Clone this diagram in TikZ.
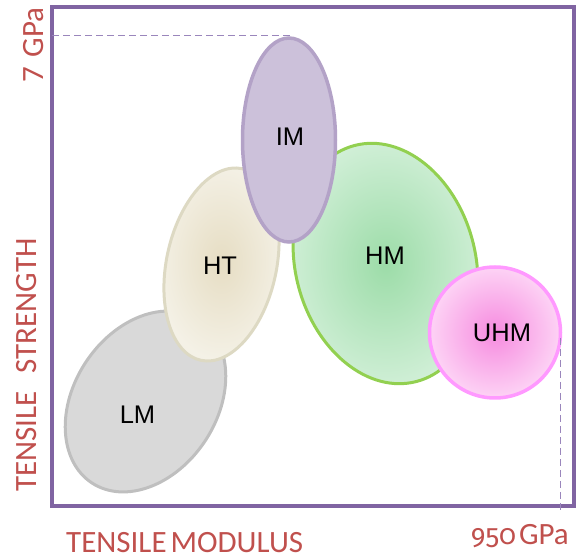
\documentclass[tikz,border=0pt]{standalone}
\usepackage{fontspec}
\setmainfont{Carlito}
\newfontfamily\labelfont{Liberation Sans}
\newfontfamily\oldfigures[Numbers=OldStyle]{Fira Sans}
\usetikzlibrary{shapes.geometric}

\definecolor{framepurple}{HTML}{8064A2}
\definecolor{guidepurple}{HTML}{9A86BC}
\definecolor{axisred}{HTML}{C0504D}
\definecolor{lmfill}{HTML}{D9D9D9}
\definecolor{lmline}{HTML}{BFBFBF}
\definecolor{htin}{HTML}{E6DDC3}
\definecolor{htout}{HTML}{F4F1E6}
\definecolor{htline}{HTML}{DDD9C3}
\definecolor{imfill}{HTML}{CCC1DA}
\definecolor{imline}{HTML}{B3A2C7}
\definecolor{hmin}{HTML}{9CDCA8}
\definecolor{hmout}{HTML}{D3F0D9}
\definecolor{hmline}{HTML}{92D050}
\definecolor{uhmin}{HTML}{F68BDF}
\definecolor{uhmout}{HTML}{FDD3F5}
\definecolor{uhmline}{HTML}{FF99FF}

\tikzset{
  region/.style={ellipse, inner sep=0pt, line width=3pt},
  classlabel/.style={font=\labelfont\fontsize{25.5}{25.5}\selectfont, text=black, anchor=base, inner sep=0pt},
  axislabel/.style={font=\fontsize{31}{31}\selectfont, text=axisred, inner sep=0pt},
  guide/.style={draw=guidepurple, line width=1pt, dash pattern=on 7pt off 4pt},
}

\begin{document}
\begin{tikzpicture}[x=1pt,y=1pt]
\useasboundingbox (0,0) rectangle (582,560);

% plot frame
\draw[framepurple, line width=4pt] (52,553) rectangle (574,54);

% fibre classes
\node[region, draw=lmline, fill=lmfill, minimum width=195pt, minimum height=143pt, rotate=56.6] (lm) at (145.5,158.5) {};
\node[region, draw=htline, inner color=htin, outer color=htout, minimum width=196pt, minimum height=110pt, rotate=77.9] (ht) at (221.5,295.5) {};
\node[region, draw=hmline, inner color=hmin, outer color=hmout, minimum width=244pt, minimum height=180pt, rotate=104.75] (hm) at (385.5,296.5) {};
\node[region, draw=imline, fill=imfill, line width=3.5pt, minimum width=93pt, minimum height=204pt] (im) at (289,420) {};
\node[region, draw=uhmline, inner color=uhmin, outer color=uhmout, line width=3.5pt, minimum width=131pt, minimum height=131pt] (uhm) at (495,227.5) {};

% class names
\node[classlabel] (lmtext) at (137.5,136) {LM};
\node[classlabel] (httext) at (220,285) {HT};
\node[classlabel] (imtext) at (290,414) {IM};
\node[classlabel] (hmtext) at (385,295) {HM};
\node[classlabel] (uhmtext) at (502,218) {UHM};

% guide lines to the axis limits
\coordinate (ytick) at (52,524);
\coordinate (imtop) at (290,524);
\coordinate (uhmright) at (560.5,222);
\coordinate (xtick) at (560.5,48);
\draw[guide] (ytick) -- (imtop);
\draw[guide] (uhmright) -- (xtick);

% axis titles and limits
\node[axislabel, rotate=90, anchor=base] (ymax) at (43,515) {7\hspace{3pt} GPa};
\node[axislabel, rotate=90, anchor=base] (ytitle) at (36,195) {TENSILE\hspace{18pt}STRENGTH};
\node[axislabel, anchor=base west] (xtitle) at (66,7) {TENSILE\hspace{4pt}MODULUS};
\node[axislabel, anchor=base east] (xmax) at (569,15) {{\oldfigures\fontsize{28}{28}\selectfont 950}\hspace{3pt}GPa};
\end{tikzpicture}
\end{document}
